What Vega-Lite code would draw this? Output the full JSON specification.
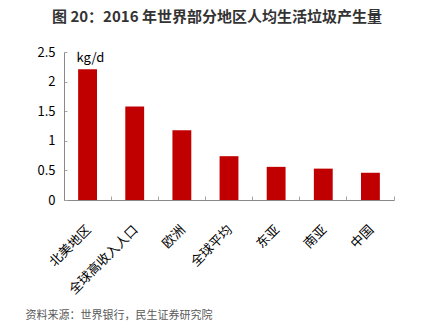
{
  "$schema": "https://vega.github.io/schema/vega-lite/v6.json",
  "width": 330,
  "height": 148,
  "autosize": "none",
  "padding": {"left": 64, "top": 52, "right": 29, "bottom": 136},
  "background": "white",
  "config": {
    "font": "Noto Sans CJK SC",
    "view": {"stroke": null}
  },
  "title": {
    "text": "图 20：2016 年世界部分地区人均生活垃圾产生量",
    "anchor": "start",
    "frame": "group",
    "dx": -12,
    "fontSize": 15,
    "fontWeight": "bold",
    "color": "#333333",
    "offset": 21
  },
  "data": {
    "values": [
      {"region": "北美地区", "value": 2.21},
      {"region": "全球高收入人口", "value": 1.58},
      {"region": "欧洲", "value": 1.18},
      {"region": "全球平均", "value": 0.74},
      {"region": "东亚", "value": 0.56},
      {"region": "南亚", "value": 0.53},
      {"region": "中国", "value": 0.46}
    ]
  },
  "mark": {"type": "bar", "color": "#C00000", "width": {"band": 0.4}},
  "encoding": {
    "x": {
      "field": "region",
      "type": "nominal",
      "sort": null,
      "scale": {"paddingInner": 0, "paddingOuter": 0},
      "axis": {
        "title": "资料来源：世界银行，民生证券研究院",
        "titleFontSize": 11,
        "titleFontWeight": "normal",
        "titleColor": "#595959",
        "titleAnchor": "start",
        "titleAlign": "left",
        "titleBaseline": "middle",
        "titleX": -39,
        "titleY": 115,
        "labelAngle": -45,
        "labelFontSize": 13,
        "labelColor": "#000000",
        "labelPadding": 27,
        "labelOffset": -3,
        "bandPosition": 1,
        "tickExtra": true,
        "tickSize": -4,
        "tickColor": "#a6a6a6",
        "domainColor": "#898989",
        "grid": false
      }
    },
    "y": {
      "field": "value",
      "type": "quantitative",
      "scale": {"domain": [0, 2.5], "nice": false},
      "axis": {
        "values": [0, 0.5, 1, 1.5, 2, 2.5],
        "format": "~g",
        "title": "kg/d",
        "titleAngle": 0,
        "titleAlign": "left",
        "titleBaseline": "top",
        "titleX": 12,
        "titleY": -1,
        "titleFontSize": 13,
        "titleFontWeight": "normal",
        "titleColor": "#000000",
        "labelFontSize": 13,
        "labelColor": "#000000",
        "labelPadding": 12,
        "tickSize": -3,
        "tickColor": "#a6a6a6",
        "domainColor": "#898989",
        "grid": false
      }
    }
  }
}
